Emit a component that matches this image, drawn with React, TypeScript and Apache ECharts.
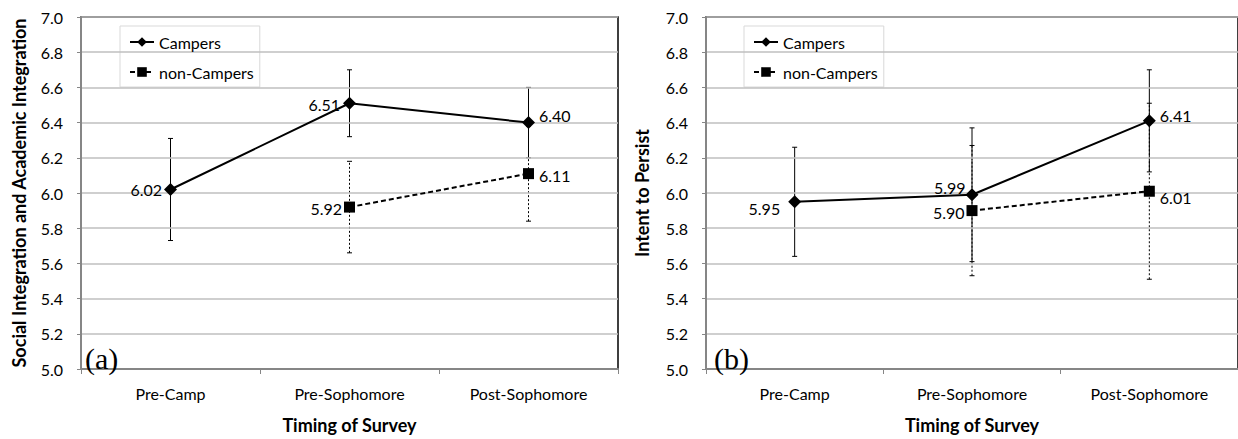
import React, { useEffect, useRef } from "react";
import * as echarts from "echarts";

const categories = ["Pre-Camp", "Pre-Sophomore", "Post-Sophomore"];
const yMin = 5.0;
const yMax = 7.0;
const yStep = 0.2;

// Panel (a): Social Integration and Academic Integration
const integrationCampers = [6.02, 6.51, 6.4];
const integrationCampersErr = [0.29, 0.19, 0.2];
const integrationNonCampers = [null, 5.92, 6.11];
const integrationNonCampersErr = [null, 0.26, 0.27];

// Panel (b): Intent to Persist
const persistCampers = [5.95, 5.99, 6.41];
const persistCampersErr = [0.31, 0.38, 0.29];
const persistNonCampers = [null, 5.9, 6.01];
const persistNonCampersErr = [null, 0.37, 0.5];

const FONT = "Lato";

type LP = { position: string; distance: number; offset: [number, number] };

const integrationCampersLabels: LP[] = [
  { position: "left", distance: 2, offset: [0, 0] },
  { position: "left", distance: 3, offset: [0, 1] },
  { position: "right", distance: 4, offset: [0, -7] },
];
const integrationNonCampersLabels: LP[] = [
  { position: "left", distance: 2, offset: [0, 0] },
  { position: "left", distance: 2, offset: [0, 1] },
  { position: "right", distance: 5, offset: [0, 2] },
];
const persistCampersLabels: LP[] = [
  { position: "left", distance: 8, offset: [0, 7] },
  { position: "left", distance: 0, offset: [0, -7] },
  { position: "right", distance: 4, offset: [0, -5] },
];
const persistNonCampersLabels: LP[] = [
  { position: "left", distance: 2, offset: [0, 0] },
  { position: "left", distance: 2, offset: [0, 2] },
  { position: "right", distance: 5, offset: [0, 6] },
];

function lineData(vals: (number | null)[], labels: LP[]) {
  return vals.map((v, i) =>
    v == null
      ? "-"
      : {
          value: v,
          label: {
            show: true,
            position: labels[i].position,
            distance: labels[i].distance,
            offset: labels[i].offset,
          },
        }
  );
}

function errData(vals: (number | null)[], errs: (number | null)[]) {
  const out: number[][] = [];
  vals.forEach((v, i) => {
    if (v != null && errs[i] != null) out.push([i, v - (errs[i] as number), v + (errs[i] as number)]);
  });
  return out;
}

function errSeries(data: number[][], idx: number, dashed: boolean) {
  return {
    type: "custom",
    xAxisIndex: idx,
    yAxisIndex: idx,
    z: 3,
    silent: true,
    data,
    encode: { x: 0, y: [1, 2] },
    renderItem: (params: any, api: any) => {
      const x = api.value(0);
      const lo = api.coord([x, api.value(1)]);
      const hi = api.coord([x, api.value(2)]);
      const cap = 2.5;
      const capStyle = { stroke: "#000", lineWidth: 1 };
      return {
        type: "group",
        children: [
          {
            type: "line",
            shape: { x1: lo[0], y1: lo[1], x2: hi[0], y2: hi[1] },
            style: { stroke: "#000", lineWidth: 1, lineDash: dashed ? [2, 2] : null },
          },
          { type: "line", shape: { x1: lo[0] - cap, y1: lo[1], x2: lo[0] + cap, y2: lo[1] }, style: capStyle },
          { type: "line", shape: { x1: hi[0] - cap, y1: hi[1], x2: hi[0] + cap, y2: hi[1] }, style: capStyle },
        ],
      };
    },
  };
}

function lineSeries(name: string, vals: (number | null)[], labels: LP[], idx: number, dashed: boolean) {
  return {
    type: "line",
    name,
    xAxisIndex: idx,
    yAxisIndex: idx,
    z: 5,
    data: lineData(vals, labels),
    symbol: dashed ? "rect" : "diamond",
    symbolSize: dashed ? 11 : 13,
    lineStyle: { color: "#000", width: 2, type: dashed ? [5, 3] : "solid" },
    itemStyle: { color: "#000" },
    label: {
      show: true,
      color: "#000",
      fontFamily: FONT,
      fontSize: 16,
      formatter: (p: any) => Number(p.value).toFixed(2),
    },
  };
}

function xAxis(idx: number) {
  return {
    type: "category",
    gridIndex: idx,
    data: categories,
    boundaryGap: true,
    axisLine: { show: true, lineStyle: { color: "#868686", width: 2 } },
    axisTick: { show: true, length: 5, lineStyle: { color: "#868686", width: 1 } },
    axisLabel: { color: "#000", fontFamily: FONT, fontSize: 16, margin: 16 },
    name: "Timing of Survey",
    nameLocation: "middle",
    nameGap: 47,
    nameTextStyle: { color: "#000", fontFamily: FONT, fontSize: 18, fontWeight: "bold" },
    z: 4,
  };
}

function yAxis(idx: number, name: string, gap: number) {
  return {
    type: "value",
    gridIndex: idx,
    min: yMin,
    max: yMax,
    interval: yStep,
    axisLine: { show: true, lineStyle: { color: "#868686", width: 2 } },
    axisTick: { show: true, length: 4, lineStyle: { color: "#868686" } },
    splitLine: { show: true, lineStyle: { color: "#bfbfbf", width: 1.5 } },
    axisLabel: {
      color: "#000",
      fontFamily: FONT,
      fontSize: 16,
      margin: 18,
      formatter: (v: number) => v.toFixed(1),
    },
    name,
    nameLocation: "middle",
    nameGap: gap,
    nameTextStyle: { color: "#000", fontFamily: FONT, fontSize: 18, fontWeight: "bold" },
    z: 4,
  };
}

function legend(left: number) {
  return {
    show: true,
    orient: "vertical",
    left,
    top: 26,
    data: ["Campers", "non-Campers"],
    selectedMode: false,
    backgroundColor: "#fff",
    borderColor: "#d9d9d9",
    borderWidth: 1,
    padding: [8, 6, 7, 9],
    itemGap: 14,
    itemWidth: 24,
    itemHeight: 12,
    textStyle: { color: "#000", fontFamily: FONT, fontSize: 16 },
  };
}

export default function App() {
  const ref = useRef<HTMLDivElement>(null);
  useEffect(() => {
    if (!ref.current) return;
    const chart = echarts.init(ref.current, undefined, { renderer: "svg" });
    chart.setOption({
      animation: false,
      backgroundColor: "#fff",
      grid: [
        { left: 81, top: 17, width: 537, height: 360, show: true, borderColor: "#000", borderWidth: 1.5, backgroundColor: "transparent" },
        { left: 706, top: 17, width: 534, height: 360, show: true, borderColor: "#000", borderWidth: 1.5, backgroundColor: "transparent" },
      ],
      xAxis: [xAxis(0), xAxis(1)],
      yAxis: [
        yAxis(0, "Social Integration and Academic Integration", 53),
        yAxis(1, "Intent to Persist", 55),
      ],
      legend: [legend(120), legend(744)],
      series: [
        errSeries(errData(integrationCampers, integrationCampersErr), 0, false),
        errSeries(errData(integrationNonCampers, integrationNonCampersErr), 0, true),
        lineSeries("Campers", integrationCampers, integrationCampersLabels, 0, false),
        lineSeries("non-Campers", integrationNonCampers, integrationNonCampersLabels, 0, true),
        errSeries(errData(persistCampers, persistCampersErr), 1, false),
        errSeries(errData(persistNonCampers, persistNonCampersErr), 1, true),
        lineSeries("Campers", persistCampers, persistCampersLabels, 1, false),
        lineSeries("non-Campers", persistNonCampers, persistNonCampersLabels, 1, true),
      ],
      graphic: [
        {
          type: "text",
          left: 85,
          top: 343,
          z: 10,
          style: { text: "(a)", fontFamily: "Liberation Serif", fontSize: 30, fill: "#000" },
        },
        {
          type: "text",
          left: 714,
          top: 343,
          z: 10,
          style: { text: "(b)", fontFamily: "Liberation Serif", fontSize: 30, fill: "#000" },
        },
      ],
    });
    return () => chart.dispose();
  }, []);
  return (
    <div
      ref={ref}
      style={{ position: "fixed", left: 0, top: 0, width: 1238, height: 439, background: "#fff" }}
    />
  );
}
